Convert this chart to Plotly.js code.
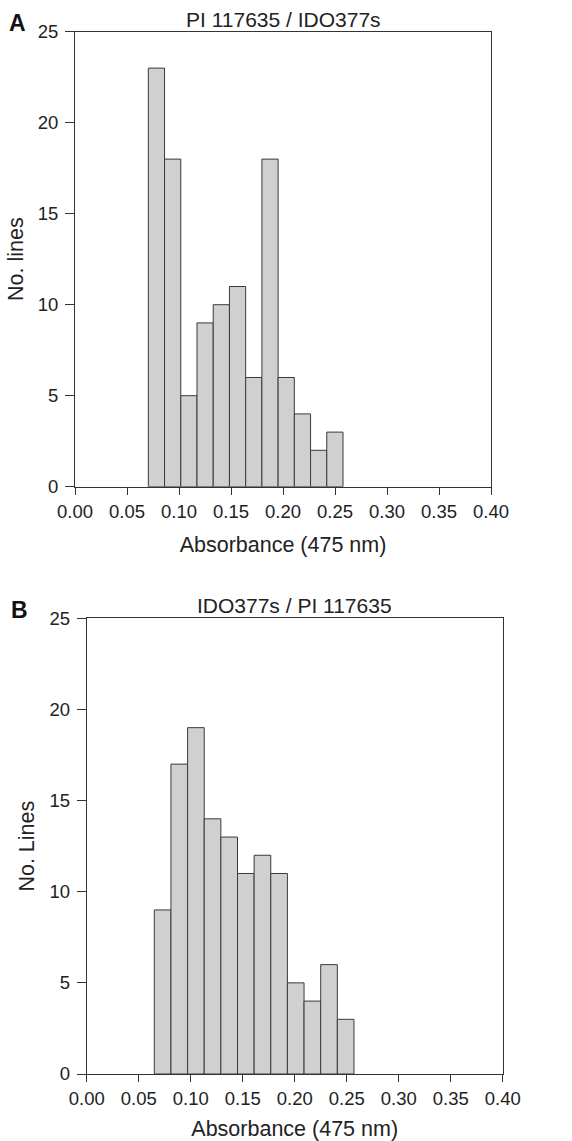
<!DOCTYPE html>
<html>
<head>
<meta charset="utf-8">
<script src="https://cdn.plot.ly/plotly-3.0.1.min.js"></script>
<style>html,body{margin:0;padding:0;background:#fff;}#chart{width:572px;height:1141px;}</style>
</head>
<body>
<div id="chart"></div>
<script>
// Panel A: PI 117635 / IDO377s
const binCentersA = [0.0783, 0.0939, 0.1095, 0.1251, 0.1407, 0.1563, 0.1719, 0.1875, 0.2031, 0.2187, 0.2343, 0.2499];
const countsA = [23, 18, 5, 9, 10, 11, 6, 18, 6, 4, 2, 3];
const binWidthA = 0.0156;
// Panel B: IDO377s / PI 117635
const binCentersB = [0.0730, 0.0890, 0.1050, 0.1210, 0.1370, 0.1530, 0.1690, 0.1850, 0.2010, 0.2170, 0.2330, 0.2490];
const countsB = [9, 17, 19, 14, 13, 11, 12, 11, 5, 4, 6, 3];
const binWidthB = 0.0160;
const xTicks = [0.00, 0.05, 0.10, 0.15, 0.20, 0.25, 0.30, 0.35, 0.40];
const yTicks = [0, 5, 10, 15, 20, 25];

const FONT = "Liberation Sans, Arial, Helvetica, sans-serif";
const barStyle = {color: '#d0d0d0', line: {color: '#3a3a3a', width: 1}};

const traces = [
  {type: 'bar', x: binCentersA, y: countsA, width: binWidthA, marker: barStyle, xaxis: 'x', yaxis: 'y', hoverinfo: 'x+y'},
  {type: 'bar', x: binCentersB, y: countsB, width: binWidthB, marker: barStyle, xaxis: 'x2', yaxis: 'y2', hoverinfo: 'x+y'}
];

function xax(domain, anchor, title, standoff) {
  return {
    domain: domain, anchor: anchor, range: [0, 0.4], tickvals: xTicks, tickformat: '.2f',
    ticks: 'outside', ticklen: 7, tickwidth: 1, tickcolor: '#333',
    showline: true, linecolor: '#333', linewidth: 1, mirror: true,
    showgrid: false, zeroline: false, automargin: false, ticklabelstandoff: 1,
    tickfont: {family: FONT, size: 18.5, color: '#222'},
    title: {text: title, font: {family: FONT, size: 21.5, color: '#222'}, standoff: standoff}
  };
}
function yax(domain, anchor, title, standoff) {
  return {
    domain: domain, anchor: anchor, range: [0, 25], tickvals: yTicks,
    ticks: 'outside', ticklen: 9, tickwidth: 1, tickcolor: '#333',
    showline: true, linecolor: '#333', linewidth: 1, mirror: true,
    showgrid: false, zeroline: false, automargin: false, ticklabelstandoff: 3,
    tickfont: {family: FONT, size: 18.5, color: '#222'},
    title: {text: title, font: {family: FONT, size: 21.5, color: '#222'}, standoff: standoff}
  };
}

const L = 60, R = 50, T = 10, B = 30, W = 572, H = 1141;
const pw = W - L - R, ph = H - T - B;
const dx = (a, b) => [(a - L) / pw, (b - L) / pw];
const dy = (top, bot) => [(H - B - bot) / ph, (H - B - top) / ph];

const layout = {
  width: W, height: H,
  margin: {l: L, r: R, t: T, b: B},
  paper_bgcolor: '#fff', plot_bgcolor: '#fff',
  showlegend: false, bargap: 0,
  font: {family: FONT, color: '#222'},
  xaxis: xax(dx(75, 491), 'y', 'Absorbance (475 nm)', 16),
  yaxis: yax(dy(31.7, 486.7), 'x', 'No. lines', 8),
  xaxis2: xax(dx(86.7, 502.7), 'y2', 'Absorbance (475 nm)', 16),
  yaxis2: yax(dy(618.3, 1074), 'x2', 'No. Lines', 8),
  annotations: [
    {text: 'PI 117635 / IDO377s', xref: 'paper', yref: 'paper', x: (283 - L) / pw, y: (H - B - 19) / ph, xanchor: 'center', yanchor: 'middle', showarrow: false, font: {family: FONT, size: 21, color: '#222'}},
    {text: 'IDO377s / PI 117635', xref: 'paper', yref: 'paper', x: (294.7 - L) / pw, y: (H - B - 605.5) / ph, xanchor: 'center', yanchor: 'middle', showarrow: false, font: {family: FONT, size: 21, color: '#222'}},
    {text: '<b>A</b>', xref: 'paper', yref: 'paper', x: (17 - L) / pw, y: (H - B - 23) / ph, xanchor: 'center', yanchor: 'middle', showarrow: false, font: {family: FONT, size: 23, color: '#111'}},
    {text: '<b>B</b>', xref: 'paper', yref: 'paper', x: (19 - L) / pw, y: (H - B - 609.5) / ph, xanchor: 'center', yanchor: 'middle', showarrow: false, font: {family: FONT, size: 23, color: '#111'}}
  ]
};

Plotly.newPlot('chart', traces, layout, {displayModeBar: false, staticPlot: true});
</script>
</body>
</html>
